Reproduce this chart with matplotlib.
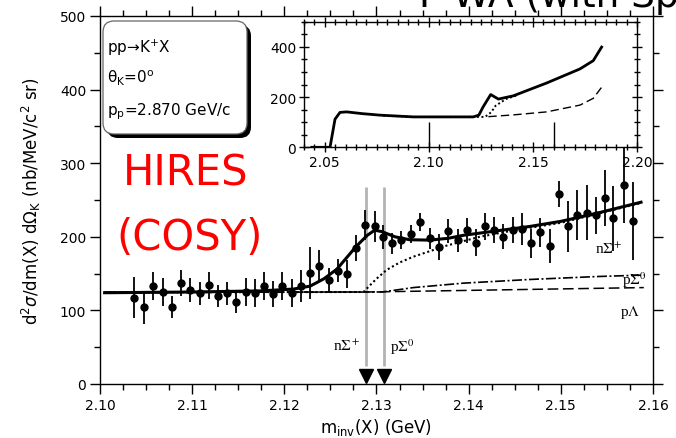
import matplotlib
matplotlib.use("Agg")
import matplotlib.pyplot as plt
from matplotlib.patches import FancyBboxPatch
from matplotlib.ticker import MultipleLocator, FixedLocator

plt.rcParams['font.family'] = ['DejaVu Sans']

# ------------------------------------------------------------
# HIRES data: pp -> K+ X, invariant mass of X (GeV)
# ------------------------------------------------------------
m_data = [2.1037, 2.1048, 2.1058, 2.1068, 2.1078, 2.1088, 2.1098, 2.1108,
          2.1118, 2.1128, 2.1138, 2.1148, 2.1158, 2.1168, 2.1178, 2.1188,
          2.1198, 2.1208, 2.1218, 2.1228, 2.1238, 2.1248, 2.1258, 2.1268,
          2.1278, 2.1288, 2.1298, 2.1307, 2.1317, 2.1327, 2.1337, 2.1347,
          2.1358, 2.1368, 2.1378, 2.1388, 2.1398, 2.1408, 2.1418, 2.1428,
          2.1437, 2.1448, 2.1458, 2.1468, 2.1477, 2.1488, 2.1498, 2.1508,
          2.1518, 2.1528, 2.1538, 2.1548, 2.1557, 2.1568, 2.1578]
xsec_data = [117, 104, 133, 125, 104, 137, 128, 123,
             134, 119, 123, 112, 125, 124, 133, 122,
             133, 124, 133, 151, 160, 141, 154, 149,
             185, 216, 214, 200, 191, 196, 204, 220,
             198, 186, 208, 195, 209, 192, 214, 209,
             200, 209, 211, 191, 206, 188, 258, 214,
             229, 233, 229, 253, 225, 271, 222]
xsec_err = [28, 23, 19, 19, 15, 18, 16, 16,
            18, 15, 16, 15, 19, 19, 19, 18,
            19, 19, 22, 35, 22, 17, 16, 19,
            18, 20, 21, 16, 14, 12, 12, 12,
            14, 18, 16, 16, 17, 18, 18, 18,
            17, 18, 22, 20, 20, 23, 18, 35,
            34, 38, 25, 38, 44, 52, 53]

# model curves (main panel)
total_m = [2.1005, 2.1100, 2.1174, 2.1210, 2.1228, 2.1243, 2.1257, 2.1278,
           2.1290, 2.1298, 2.1306, 2.1320, 2.1336, 2.1358, 2.1378, 2.1394,
           2.1430, 2.1466, 2.1500, 2.1539, 2.1587]
total = [124, 125, 126.5, 129, 133, 143, 156, 187,
         202, 209, 207, 200, 196, 195.5, 198, 202,
         208, 214, 221, 232, 247]

nsig_m = [2.1005, 2.1286, 2.1292, 2.1300, 2.1311, 2.1325, 2.1340, 2.1376,
          2.1412, 2.1450, 2.1500, 2.1539, 2.1587]
nsig = [124.5, 125, 133, 143, 155, 165, 173, 188,
        200, 209, 219, 231, 246]

psig_m = [2.1005, 2.1306, 2.1340, 2.1394, 2.1466, 2.1539, 2.1590]
psig = [124.5, 125, 131, 137, 142, 146, 148]

plam_m = [2.1005, 2.1290, 2.1590]
plam = [124.5, 125, 131]

# thresholds of the n Sigma+ and p Sigma0 channels
thresholds = [2.1289, 2.1308]

# model curves (inset, wide range)
ins_total_m = [2.0437, 2.0525, 2.0549, 2.0573, 2.0605, 2.0680, 2.0765, 2.0925,
               2.1213, 2.1240, 2.1260, 2.1297, 2.1334, 2.1406, 2.1566, 2.1726,
               2.1790, 2.1830]
ins_total = [0, 0, 112, 139, 141, 134, 128, 121,
             121, 128, 160, 210, 192, 205, 256, 312,
             345, 399]
ins_dot_m = [2.0780, 2.0925, 2.1270, 2.1300, 2.1320, 2.1370, 2.1420]
ins_dot = [126, 121, 121, 140, 165, 192, 206]
ins_dash_m = [2.1286, 2.1406, 2.1566, 2.1726, 2.1790, 2.1830]
ins_dash = [122, 129, 141, 168, 195, 239]


def px(x, y):
    """image pixel (from top-left) -> figure fraction"""
    return x / 676.0, 1.0 - y / 439.0


fig = plt.figure(figsize=(6.76, 4.39), dpi=100)

# ============================================================
# MAIN PANEL
# ============================================================
ax = fig.add_axes([100 / 676, 54 / 439, 553 / 676, 368 / 439])

ax.errorbar(m_data, xsec_data, yerr=xsec_err, fmt='o', color='black',
            ms=5, elinewidth=1.3, capsize=0, zorder=4)

ax.plot(total_m, total, color='black', lw=2.2, zorder=5)
ax.plot(nsig_m, nsig, color='black', lw=1.5, ls=(0, (1, 1.3)), zorder=3)
ax.plot(psig_m, psig, color='black', lw=1.2, ls=(0, (6, 1.5, 1.2, 1.5)), zorder=3)
ax.plot(plam_m, plam, color='black', lw=1.1, ls=(0, (7, 3)), zorder=3)

ax.vlines(thresholds, 25, 267, color='#b3b3b3', lw=2, zorder=2)
ax.plot(thresholds, [10.9, 10.9], 'v', color='black', ms=9.5, zorder=6,
        clip_on=False)

serif = ['Liberation Serif', 'DejaVu Serif']
ax.text(2.1268, 52, r'n$\Sigma^+$', ha='center', va='center', fontsize=11,
        family=serif, math_fontfamily='stix')
ax.text(2.1328, 52, r'p$\Sigma^0$', ha='center', va='center', fontsize=11,
        family=serif, math_fontfamily='stix')
ax.text(2.1552, 185, r'n$\Sigma^+$', ha='center', va='center', fontsize=11,
        family=serif, math_fontfamily='stix')
ax.text(2.1580, 143, r'p$\Sigma^0$', ha='center', va='center', fontsize=11,
        family=serif, math_fontfamily='stix')
ax.text(2.1575, 98, r'p$\Lambda$', ha='center', va='center', fontsize=11,
        family=serif, math_fontfamily='stix')

ax.set_xlim(2.10, 2.16)
ax.set_ylim(0, 500)
ax.xaxis.set_major_locator(MultipleLocator(0.01))
ax.xaxis.set_minor_locator(MultipleLocator(0.0025))
ax.yaxis.set_major_locator(MultipleLocator(100))
ax.yaxis.set_minor_locator(MultipleLocator(50))
ax.set_xticks([2.10, 2.11, 2.12, 2.13, 2.14, 2.15, 2.16])
ax.set_xticklabels(['2.10', '2.11', '2.12', '2.13', '2.14', '2.15', '2.16'])

ax.tick_params(which='major', direction='out', length=7, width=1,
               top=True, right=True, labelsize=10, pad=3)
ax.tick_params(which='minor', direction='out', length=4, width=1,
               top=True, right=True)
for spine in ax.spines.values():
    spine.set_linewidth(1.0)

ax.set_xlabel(r'm$_{\rm inv}$(X) (GeV)', fontsize=12, labelpad=3)
ax.set_ylabel(r'd$^2\sigma$/dm(X) d$\Omega_{\rm K}$ (nb/MeV/c$^2$ sr)',
              fontsize=12, labelpad=12)

# ============================================================
# INSET: full kinematic range
# ============================================================
axin = fig.add_axes([304 / 676, (439 - 148.3) / 439, 333 / 676, 125.6 / 439])
axin.plot(ins_total_m, ins_total, color='black', lw=2.0)
axin.plot(ins_dot_m, ins_dot, color='black', lw=1.4, ls=(0, (1, 1.3)))
axin.plot(ins_dash_m, ins_dash, color='black', lw=1.0, ls=(0, (6, 3)))
axin.vlines([2.10, 2.16], 0, 100, color='black', lw=1.0)

axin.set_xlim(2.04, 2.20)
axin.set_ylim(0, 500)
axin.xaxis.set_major_locator(FixedLocator([2.05, 2.10, 2.15, 2.20]))
axin.set_xticklabels(['2.05', '2.10', '2.15', '2.20'])
axin.xaxis.set_minor_locator(MultipleLocator(0.005))
axin.yaxis.set_major_locator(FixedLocator([0, 200, 400]))
axin.yaxis.set_minor_locator(MultipleLocator(50))
axin.tick_params(which='both', direction='inout', top=True, right=True,
                 width=1, labelsize=10, pad=2)
axin.tick_params(which='major', length=7)
axin.tick_params(which='minor', length=5)
for spine in axin.spines.values():
    spine.set_linewidth(1.0)

# ============================================================
# REACTION BOX (rounded, with shadow)
# ============================================================
tr = fig.dpi_scale_trans
shadow = FancyBboxPatch((1.07, (439 - 139) / 100), 1.44, 1.13,
                        boxstyle='round,pad=0,rounding_size=0.11',
                        transform=tr, fc='black', ec='black', lw=0)
box = FancyBboxPatch((1.03, (439 - 135) / 100), 1.44, 1.13,
                     boxstyle='round,pad=0,rounding_size=0.11',
                     transform=tr, fc='white', ec='#666666', lw=0.9)
fig.add_artist(shadow)
fig.add_artist(box)

fig.text(*px(107, 53), r'pp→K$^{+}$X', fontsize=11, va='baseline')
fig.text(*px(107, 83), r'θ$_{\rm K}$=0$^{\rm o}$', fontsize=11, va='baseline')
fig.text(*px(107, 115), r'p$_{\rm p}$=2.870 GeV/c', fontsize=11, va='baseline')

# ============================================================
# SLIDE ANNOTATIONS
# ============================================================
fig.text(*px(186, 185), 'HIRES', color='red', fontsize=30,
         ha='center', va='baseline')
fig.text(*px(190, 250), '(COSY)', color='red', fontsize=30,
         ha='center', va='baseline')
fig.text(*px(419, 7), 'P-WA (with Spin)', color='black', fontsize=27,
         ha='left', va='baseline')

fig.savefig('out.png', dpi=100)
